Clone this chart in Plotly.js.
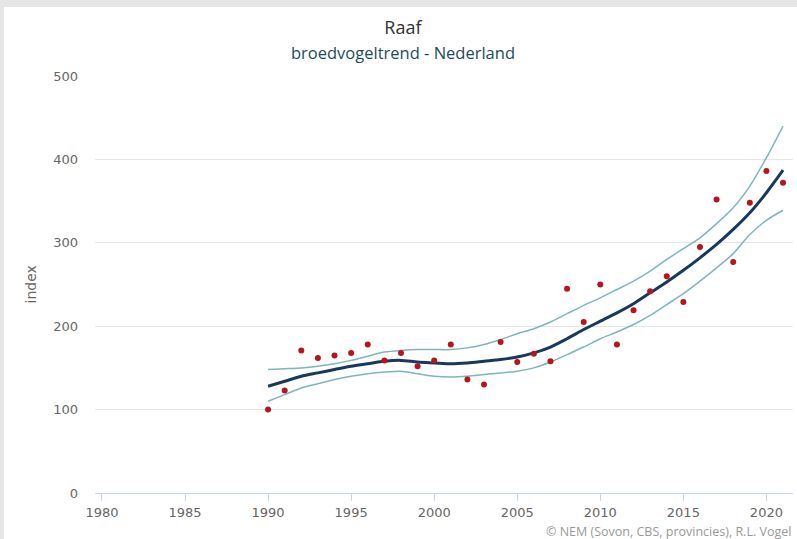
<!DOCTYPE html>
<html>
<head>
<meta charset="utf-8">
<script src="https://cdn.plot.ly/plotly-3.0.1.min.js"></script>
<style>
  html, body { margin:0; padding:0; background:#e6e6e6; width:797px; height:539px; overflow:hidden; }
  #chart { position:absolute; left:4px; top:7px; width:793px; height:532px; background:#fff; }
</style>
</head>
<body>
<div id="chart"></div>
<script>
// Yearly index values (red dots)
const years = [1990,1991,1992,1993,1994,1995,1996,1997,1998,1999,2000,2001,2002,2003,2004,2005,2006,2007,2008,2009,2010,2011,2012,2013,2014,2015,2016,2017,2018,2019,2020,2021];
const indexValues = [100,123,171,162,165,168,178,159,168,152,159,178,136,130,181,157,167,158,245,205,250,178,219,242,260,229,295,352,277,348,386,372];
// Trend line and its confidence band
const trend = [128,134,140,144,148,152,155,158,159,157,156,155,156,158,160,163,168,175,185,196,206,216,227,240,253,267,282,298,316,336,360,387];
const upper = [148,149,150,152,155,159,164,169,171,172,172,172,174,178,184,191,197,205,215,225,234,244,254,266,280,293,306,323,342,368,402,440];
const lower = [110,118,126,131,136,140,143,145,146,143,140,139,140,142,144,146,150,157,166,175,185,193,202,213,226,239,254,270,287,310,327,339];
const xTicks = [1980,1985,1990,1995,2000,2005,2010,2015,2020];
const yTicks = [0,100,200,300,400,500];

const bandColor = '#7db5bf';
const traces = [
  {x: years, y: upper, type:'scatter', mode:'lines', line:{color:bandColor, width:1.5, shape:'spline', smoothing:0.7}, hoverinfo:'skip'},
  {x: years, y: lower, type:'scatter', mode:'lines', line:{color:bandColor, width:1.5, shape:'spline', smoothing:0.7}, hoverinfo:'skip'},
  {x: years, y: trend, type:'scatter', mode:'lines', line:{color:'#17395e', width:3, shape:'spline', smoothing:0.8}, hoverinfo:'skip'},
  {x: years, y: indexValues, type:'scatter', mode:'markers', marker:{color:'#b8141d', size:6}, hoverinfo:'skip'}
];

const tickFont = {family:'DejaVu Sans, Verdana, sans-serif', size:13, color:'#666666'};
const layout = {
  width:793, height:532,
  paper_bgcolor:'#ffffff', plot_bgcolor:'#ffffff',
  margin:{l:91, r:4, t:69, b:46},
  showlegend:false,
  title:{text:'Raaf', x:0.503, xref:'container', xanchor:'center', y:0.962, yref:'container', yanchor:'middle',
         font:{family:'Open Sans, sans-serif', size:18, color:'#333333'}},
  xaxis:{range:[1979.58, 2021.6], tickvals:xTicks, ticktext:xTicks.map(String), showgrid:false, zeroline:false,
         showline:true, linecolor:'#ccd6eb', linewidth:1, ticks:'outside', ticklen:7, tickcolor:'#ccd6eb', tickwidth:1,
         tickfont:tickFont, fixedrange:true},
  yaxis:{range:[0,500], tickvals:yTicks, ticktext:yTicks.map(String), showgrid:true, gridcolor:'#e6e6e6', gridwidth:1,
         zeroline:false, showline:false, ticks:'', ticklabelstandoff:16, tickfont:tickFont, fixedrange:true},
  annotations:[
    {text:'broedvogeltrend - Nederland', xref:'paper', yref:'paper', x:(399-91)/698, y:(486-46)/417, xanchor:'center', yanchor:'middle',
     showarrow:false, font:{family:'Open Sans, sans-serif', size:16.5, color:'#1b4c5a'}},
    {text:'index', xref:'paper', yref:'paper', x:(26-91)/698, y:0.5, xanchor:'center', yanchor:'middle', textangle:-90,
     showarrow:false, font:{family:'DejaVu Sans, sans-serif', size:14, color:'#666666'}},
    {text:'© NEM (Sovon, CBS, provincies), R.L. Vogel', xref:'paper', yref:'paper', x:1, y:-38/417, xanchor:'right', yanchor:'middle',
     showarrow:false, font:{family:'Open Sans, sans-serif', size:12.5, color:'#999999'}}
  ]
};
Plotly.newPlot('chart', traces, layout, {staticPlot:true, displayModeBar:false});
</script>
</body>
</html>
